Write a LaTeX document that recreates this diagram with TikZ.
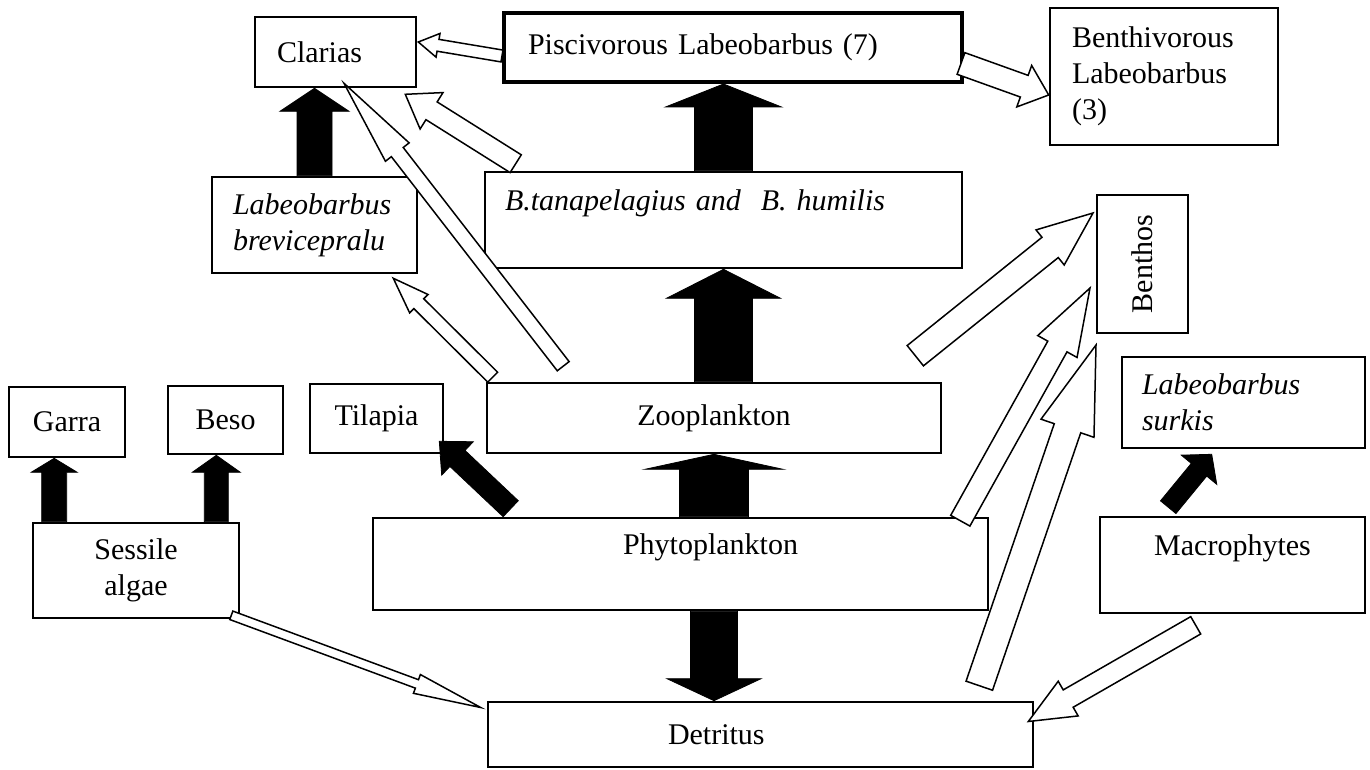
\documentclass[tikz,border=0pt]{standalone}
\usepackage{fontspec}
\setmainfont{Liberation Serif}
\usetikzlibrary{calc}
\tikzset{
  box/.style = {rectangle, draw=black, line width=1.3pt, inner ysep=0pt, font=\fontsize{15}{18}\selectfont},
  itbox/.style = {box, font=\fontsize{15}{18}\selectfont\itshape},
  blk/.style = {fill=black, draw=black, line width=0.4pt, line join=miter},
  wht/.style = {fill=white, draw=black, line width=0.75pt, line join=miter}
}
% empty line under one-line labels
\newcommand{\emptyline}{\rule[-2pt]{0pt}{2pt}}
% block arrow: style, tail, tip, half shaft, half head, head length (px)
\newcommand{\flowarrow}[6]{%
  \coordinate (fa-t) at #2;
  \coordinate (fa-h) at #3;
  \coordinate (fa-b) at ($(fa-h)!#6*0.5pt!(fa-t)$);
  \draw[#1] ($(fa-t)!#4*0.5pt!90:(fa-h)$) -- ($(fa-b)!#4*0.5pt!-90:(fa-t)$)
    -- ($(fa-b)!#5*0.5pt!-90:(fa-t)$) -- (fa-h)
    -- ($(fa-b)!#5*0.5pt!90:(fa-t)$) -- ($(fa-b)!#4*0.5pt!90:(fa-t)$)
    -- ($(fa-t)!#4*0.5pt!-90:(fa-h)$) -- cycle;
}

\begin{document}
\begin{tikzpicture}[x=0.5pt, y=-0.5pt]
\useasboundingbox (0,0) rectangle (1370,770);

% Top row
\node[box, align=left, text width=58.5pt, inner xsep=11pt, minimum width=80.5pt, minimum height=35pt] (clar) at (335.5,52) {Clarias};
\node[box, line width=2pt, align=left, text width=205pt, inner xsep=12pt, minimum width=229pt, minimum height=34.5pt] (pisc) at (733,47.5) {Piscivorous Labeobarbus (7)};
\node[box, align=left, text width=92pt, inner xsep=11pt, minimum width=114pt, minimum height=68.5pt] (benthiv) at (1164,76.5) {Benthivorous\\Labeobarbus\\(3)};

% Second row
\node[itbox, align=left, text width=81.5pt, inner xsep=10.5pt, minimum width=102.5pt, minimum height=48pt] (brev) at (314.5,225) {Labeobarbus\\brevicepralu};
\node[itbox, align=left, text width=218.5pt, inner xsep=10pt, minimum width=238.5pt, minimum height=48pt] (btana) at (723.5,220) {B.tanapelagius and~ B. humilis\\\emptyline};
\node[box, rotate=90, minimum width=69pt, minimum height=45.5pt] (benthos) at (1142.5,264) {Benthos};

% Third row
\node[box, minimum width=58pt, minimum height=35pt] (garra) at (67,422) {Garra};
\node[box, minimum width=57.5pt, minimum height=34pt] (beso) at (225.5,420) {Beso};
\node[box, minimum width=66.5pt, minimum height=34.5pt] (tila) at (376.5,418.5) {Tilapia};
\node[box, minimum width=227pt, minimum height=35pt] (zoo) at (714,418) {Zooplankton};
\node[itbox, align=left, text width=101.5pt, inner xsep=10pt, minimum width=121.5pt, minimum height=45.5pt] (surkis) at (1243.5,402.5) {Labeobarbus\\surkis};

% Producers
\node[box, align=center, minimum width=103pt, minimum height=47.5pt] (sess) at (136,570.5) {Sessile\\algae};
\node[box, align=right, text width=117.5pt, inner xsep=95pt, minimum width=307.5pt, minimum height=46pt] (phyto) at (680.5,564) {Phytoplankton\\\emptyline};
\node[box, align=center, minimum width=132.5pt, minimum height=48pt] (macro) at (1232.5,565) {Macrophytes\\\emptyline};

% Bottom
\node[box, align=left, text width=92.5pt, inner xsep=90pt, minimum width=272.5pt, minimum height=32.5pt] (det) at (760.5,734.5) {Detritus};

% ----- BLACK ARROWS -----
\coordinate (garra-in) at ($(sess.north west)+(22.5,0)$);
\coordinate (beso-in) at ($(sess.north east)+(-24,0)$);
\flowarrow{blk}{(garra-in)}{(garra-in |- garra.south)}{12.5}{23}{14}
\flowarrow{blk}{(beso-in)}{(beso-in |- beso.south)}{12}{24}{17}
\flowarrow{blk}{($(phyto.north west)+(139,-8)$)}{($(tila.south east)+(-5,-13)$)}{11}{23}{25}
\flowarrow{blk}{(zoo.south |- phyto.north)}{(zoo.south)}{34.5}{69}{15}
\flowarrow{blk}{(zoo.south |- phyto.south)}{(zoo.south |- det.north)}{23.5}{47}{22}
\flowarrow{blk}{(btana.south |- zoo.north)}{(btana.south)}{29}{57}{29}
\flowarrow{blk}{(btana.north)}{(btana.north |- pisc.south)}{29}{58}{23}
\flowarrow{blk}{(brev.north)}{(brev.north |- clar.south)}{17.5}{34.5}{23}
\flowarrow{blk}{($(macro.north west)+(69.5,-8.5)$)}{($(surkis.south west)+(91,5)$)}{10}{23}{20}

% ----- WHITE ARROWS -----
\flowarrow{wht}{($(pisc.west)+(0,8.5)$)}{($(clar.east)+(1,-10)$)}{6}{12}{20}
\flowarrow{wht}{($(pisc.east)+(-3,16)$)}{($(benthiv.west)+(0,18.5)$)}{11.5}{22}{26}
\flowarrow{wht}{($(btana.north west)+(32,-7)$)}{($(clar.south east)+(-12,6)$)}{10.5}{21.5}{31}
\flowarrow{wht}{($(zoo.north west)+(77.5,-15.5)$)}{($(clar.south)+(8.5,-5)$)}{7.5}{15}{87}
\flowarrow{wht}{($(zoo.north west)+(7,-4.5)$)}{($(brev.south east)+(-25,4)$)}{7}{13}{36}
\flowarrow{wht}{($(zoo.north east)+(-27,-26)$)}{($(benthos.center)+(-49.5,-51)$)}{13}{22.5}{55}
\flowarrow{wht}{($(phyto.north east)+(-29,4)$)}{($(benthos.center)+(-52.5,24)$)}{11}{22.5}{67}
\flowarrow{wht}{($(det.north east)+(-55,-15)$)}{($(benthos.center)+(-46.5,81)$)}{14}{28}{88}
\flowarrow{wht}{($(macro.south west)+(97,11)$)}{($(det.east)+(-6,-13)$)}{10}{20}{46}
\flowarrow{wht}{($(sess.south east)+(-9,-4)$)}{($(det.west)+(-6,-27)$)}{4.5}{10}{68}

\end{tikzpicture}
\end{document}
